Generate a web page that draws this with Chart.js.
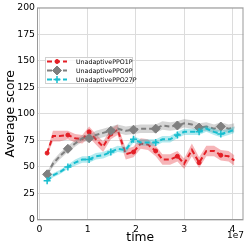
<!DOCTYPE html>
<html>
<head>
<meta charset="utf-8">
<script src="https://cdn.jsdelivr.net/npm/chart.js@4.4.0/dist/chart.umd.min.js"></script>
<style>
  html, body { margin: 0; padding: 0; background: #fff; }
  #wrap { width: 249px; height: 249px; }
</style>
</head>
<body>
<div id="wrap"><canvas id="chart" width="249" height="249"></canvas></div>
<script>
// time steps, in units of 1e7
var timeSteps = [0.16, 0.28, 0.42, 0.59, 0.74, 0.89, 1.03, 1.17, 1.32, 1.48, 1.62, 1.79, 1.95, 2.10,
                 2.25, 2.41, 2.55, 2.71, 2.86, 3.00, 3.16, 3.31, 3.46, 3.62, 3.76, 3.92, 4.04];

var ppo1p = [63, 79, 79, 80, 77, 76, 83, 76, 69, 81, 85, 62, 64, 72, 71, 65, 57, 57, 60, 53, 66, 54, 65, 65, 61, 60, 56];
var ppo1pSpread = [2, 5, 5, 4, 4, 4, 5, 5, 5, 5, 5, 5, 5, 5, 5, 5, 5, 5, 5, 5, 6, 5, 5, 5, 5, 5, 5];

var ppo9p = [43, 53, 60, 67, 72, 77, 77, 80, 82, 84, 86, 84, 85, 86, 86, 86, 89, 88, 89, 91, 90, 87, 88, 86, 88, 86, 87];
var ppo9pSpread = [2, 3, 3, 3, 3, 3, 3, 4, 4, 4, 4, 4, 4, 4, 4, 4, 4, 4, 4, 4, 4, 4, 4, 4, 4, 4, 4];

var ppo27p = [37, 42, 45, 50, 54, 57, 57, 60, 61, 64, 67, 66, 76, 73, 73, 73, 76, 76, 80, 83, 83, 83, 86, 83, 81, 83, 85];
var ppo27pSpread = [2, 2, 2, 2, 3, 3, 3, 3, 3, 3, 3, 3, 3, 3, 3, 3, 3, 3, 3, 3, 3, 3, 3, 3, 3, 3, 3];

var seriesLabels = ['UnadaptivePPO1P', 'UnadaptivePPO9P', 'UnadaptivePPO27P'];
var xTicks = [0, 1, 2, 3, 4];
var yTicks = [0, 25, 50, 75, 100, 125, 150, 175, 200];

var FONT = "'DejaVu Sans', sans-serif";

function points(values, spread, sign) {
    return timeSteps.map(function(t, i) {
        return { x: t, y: values[i] + sign * (spread ? spread[i] : 0) };
    });
}

function series(label, values, spread, color, band, style, radius, order) {
    return [
        {
            label: label + ' upper',
            data: points(values, spread, 1),
            borderWidth: 0,
            pointRadius: 0,
            backgroundColor: band,
            fill: '+1',
            order: order + 1
        },
        {
            label: label + ' lower',
            data: points(values, spread, -1),
            borderWidth: 0,
            pointRadius: 0,
            fill: false,
            order: order + 1
        },
        {
            label: label,
            data: points(values, null, 0),
            isMain: true,
            markerRadius: radius,
            borderColor: color,
            backgroundColor: color,
            borderWidth: 2,
            borderDash: [5, 3],
            pointStyle: style,
            pointRadius: function(ctx) { return ctx.dataIndex % 3 === 0 ? radius : 0; },
            pointBorderWidth: style === 'cross' ? 1.5 : 1,
            fill: false,
            order: order
        }
    ];
}

var datasets = []
    .concat(series(seriesLabels[0], ppo1p, ppo1pSpread, '#e41f26', 'rgba(228,31,38,0.33)', 'circle', 2, 5))
    .concat(series(seriesLabels[1], ppo9p, ppo9pSpread, '#7f7f7f', 'rgba(127,127,127,0.33)', 'rectRot', 4.5, 3))
    .concat(series(seriesLabels[2], ppo27p, ppo27pSpread, '#17becf', 'rgba(23,190,207,0.33)', 'cross', 3.5, 1));

var whiteBackground = {
    id: 'whiteBackground',
    beforeDraw: function(chart) {
        var ctx = chart.ctx;
        ctx.save();
        ctx.fillStyle = '#fff';
        ctx.fillRect(0, 0, chart.width, chart.height);
        ctx.restore();
    }
};

// frame, legend box inside the plot and the 1e7 offset text
var decorations = {
    id: 'decorations',
    afterDraw: function(chart) {
        var ctx = chart.ctx;
        var a = chart.chartArea;
        ctx.save();
        ctx.strokeStyle = '#999';
        ctx.lineWidth = 1;
        ctx.strokeRect(a.left + 0.5, a.top + 0.5, a.right - a.left - 1, a.bottom - a.top - 1);

        // legend
        var mains = chart.data.datasets.filter(function(d) { return d.isMain; });
        var bx = 45, by = 57, bw = 87, bh = 26;
        ctx.fillStyle = 'rgba(255,255,255,0.8)';
        ctx.strokeStyle = '#d0d0d0';
        ctx.fillRect(bx, by, bw, bh);
        ctx.strokeRect(bx + 0.5, by + 0.5, bw, bh);
        mains.forEach(function(d, i) {
            var y = by + 4.5 + i * 9;
            ctx.setLineDash([5, 3]);
            ctx.strokeStyle = d.borderColor;
            ctx.lineWidth = 2;
            ctx.beginPath();
            ctx.moveTo(47, y);
            ctx.lineTo(67, y);
            ctx.stroke();
            ctx.setLineDash([]);
            ctx.fillStyle = d.borderColor;
            ctx.strokeStyle = d.borderColor;
            ctx.lineWidth = d.pointStyle === 'cross' ? 1.5 : 1;
            Chart.helpers.drawPoint(ctx, {
                pointStyle: d.pointStyle,
                radius: d.markerRadius,
                borderWidth: ctx.lineWidth
            }, 57, y);
            ctx.fillStyle = '#000';
            ctx.font = '6.3px ' + FONT;
            ctx.textAlign = 'left';
            ctx.textBaseline = 'middle';
            ctx.fillText(d.label, 76, y + 0.5);
        });

        ctx.fillStyle = '#000';
        ctx.font = '9px ' + FONT;
        ctx.textAlign = 'right';
        ctx.textBaseline = 'middle';
        ctx.fillText('1e7', 244, 236);
        ctx.restore();
    }
};

new Chart(document.getElementById('chart'), {
    type: 'line',
    data: { datasets: datasets },
    options: {
        responsive: false,
        animation: false,
        layout: { padding: { top: 6, right: 4, bottom: 0, left: 0 } },
        plugins: {
            legend: { display: false },
            tooltip: { enabled: false }
        },
        scales: {
            x: {
                type: 'linear',
                min: -0.05,
                max: 4.23,
                afterBuildTicks: function(scale) {
                    scale.ticks = xTicks.map(function(v) { return { value: v }; });
                },
                afterFit: function(scale) { scale.height = 29; },
                grid: { color: '#dcdcdc', drawTicks: false },
                border: { display: false },
                ticks: {
                    padding: 4,
                    maxRotation: 0,
                    color: '#000',
                    font: { family: FONT, size: 9.3 },
                    callback: function(v) { return String(v); }
                },
                title: {
                    display: true,
                    text: 'time',
                    color: '#000',
                    font: { family: FONT, size: 12.3 },
                    padding: { top: 0, bottom: 4 }
                }
            },
            y: {
                min: 0,
                max: 200,
                afterBuildTicks: function(scale) {
                    scale.ticks = yTicks.map(function(v) { return { value: v }; });
                },
                afterFit: function(scale) { scale.width = 37; },
                grid: { color: '#dcdcdc', drawTicks: false },
                border: { display: false },
                ticks: {
                    padding: 2,
                    color: '#000',
                    font: { family: FONT, size: 9.3 }
                },
                title: {
                    display: true,
                    text: 'Average score',
                    color: '#000',
                    font: { family: FONT, size: 12.3 },
                    padding: { top: 3, bottom: 0 }
                }
            }
        }
    },
    plugins: [whiteBackground, decorations]
});
</script>
</body>
</html>
